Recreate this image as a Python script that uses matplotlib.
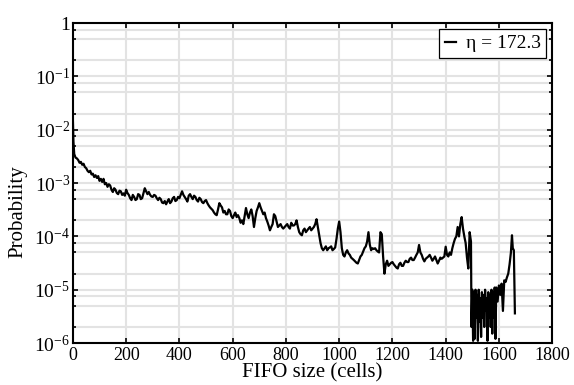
import matplotlib
matplotlib.use('Agg')
from matplotlib import pyplot as plt
from matplotlib.ticker import LogLocator, FixedLocator, NullFormatter

# FIFO occupancy histogram.
# First bins: size 0 and 2 (probability in units of 1e-4)
head_size = [0, 2]
head_prob_e4 = [150, 60]

# Bins 5, 10, ..., 1495 (probability in units of 1e-4)
body_size = list(range(5, 1500, 5))
body_prob_e4 = [
    35, 30, 29, 27, 24, 25, 22, 23, 20, 19,
    17, 16, 17, 14.5, 15, 13, 14, 12.5, 13.5, 11,
    12, 10.5, 12, 9.5, 10, 8.5, 9.5, 9, 7.5, 6.8,
    8, 7.5, 6.5, 6.2, 7.2, 7, 6, 6.4, 5.8, 7.5,
    6.5, 6, 5.2, 4.8, 6, 5.5, 4.8, 5, 6.2, 6,
    5, 5.2, 6.5, 8, 7, 6.2, 6.8, 6, 5.6, 5.5,
    6, 5.8, 5.2, 4.8, 5.3, 5, 4.3, 4.2, 4.6, 4,
    4.5, 5, 4.2, 4.5, 5.2, 5.5, 4.6, 4.8, 5.5, 5.2,
    6, 7, 6, 5.5, 5, 4.5, 5.8, 6.2, 5.5, 5,
    5.8, 5.5, 4.8, 4.5, 5.3, 5, 4.4, 4.2, 4.6, 4.8,
    4.2, 3.8, 3.5, 3.3, 3.1, 2.8, 2.6, 2.5, 3.2, 4.2,
    3.8, 3.5, 2.8, 3, 2.6, 2.6, 3.2, 3, 2.4, 2.2,
    2.5, 2.8, 2.3, 2.5, 2.2, 1.8, 2, 1.7, 2.4, 3.4,
    2.6, 2.2, 2.8, 3.2, 2.4, 1.5, 2.2, 3, 3.5, 4.2,
    3.5, 3, 2.6, 2.8, 2.2, 1.9, 1.6, 1.3, 1.5, 1.7,
    2.6, 2.4, 1.9, 1.5, 1.6, 1.7, 1.5, 1.4, 1.5, 1.6,
    1.7, 1.5, 1.4, 1.8, 1.6, 1.6, 1.7, 2, 1.5, 1.2,
    1.1, 1.05, 1.3, 1.4, 1.2, 1.3, 1.4, 1.5, 1.3, 1.4,
    1.5, 1.7, 2.1, 1.5, 1.1, 0.75, 0.6, 0.55, 0.6, 0.65,
    0.55, 0.6, 0.62, 0.65, 0.55, 0.58, 0.62, 0.9, 1.4, 1.9,
    1.2, 0.6, 0.45, 0.42, 0.5, 0.55, 0.48, 0.45, 0.4, 0.38,
    0.36, 0.34, 0.32, 0.31, 0.36, 0.42, 0.45, 0.52, 0.6, 0.65,
    0.8, 1.2, 0.7, 0.55, 0.6, 0.58, 0.6, 0.55, 0.52, 0.5,
    1.2, 1.1, 0.42, 0.2, 0.3, 0.35, 0.28, 0.3, 0.32, 0.33,
    0.3, 0.28, 0.26, 0.25, 0.3, 0.32, 0.28, 0.28, 0.32, 0.35,
    0.33, 0.33, 0.38, 0.4, 0.36, 0.36, 0.4, 0.45, 0.5, 0.69,
    0.5, 0.45, 0.38, 0.34, 0.38, 0.4, 0.42, 0.45, 0.4, 0.35,
    0.38, 0.42, 0.36, 0.31, 0.35, 0.4, 0.38, 0.4, 0.42, 0.64,
    0.45, 0.42, 0.5, 0.45, 0.6, 0.75, 0.9, 1.0, 1.5, 1.0,
    1.7, 2.3, 1.4, 1.0, 0.75, 0.4, 0.25, 1.2, 0.8,
]

# Tail: sparse, noisy region near the buffer limit (absolute probability)
tail_size = [1497, 1500, 1503, 1506, 1509, 1512, 1515, 1518, 1521, 1524,
             1527, 1530, 1533, 1536, 1539, 1542, 1545, 1548, 1551, 1554,
             1557, 1560, 1563, 1566, 1569, 1572, 1575, 1578, 1581, 1584,
             1587, 1590, 1595, 1600, 1605, 1610, 1615, 1620, 1625, 1630,
             1635, 1640, 1645, 1649, 1652, 1656, 1660]
tail_prob = [2e-6, 1e-5, 1.1e-6, 9e-6, 1.2e-6, 1e-5, 3e-6, 8e-6, 1.1e-6,
             1e-5, 2.5e-6, 7e-6, 1.3e-6, 9e-6, 3e-6, 8e-6, 2e-6, 1e-5, 4e-6,
             7e-6, 1.1e-6, 9e-6, 3e-6, 8e-6, 2e-6, 1e-5, 1.5e-6, 9e-6, 3e-6,
             1.1e-5, 1.2e-6, 1.1e-5, 6e-6, 1.2e-5, 8e-6, 1.3e-5, 4e-6, 1.5e-5,
             1.4e-5, 1.7e-5, 2e-5, 3e-5, 5e-5, 1.05e-4, 6e-5, 5.5e-5, 3.6e-6]

fifo_size = head_size + body_size + tail_size
prob = [v * 1e-4 for v in head_prob_e4 + body_prob_e4] + tail_prob

x_ticks = [0, 200, 400, 600, 800, 1000, 1200, 1400, 1600, 1800]
y_ticks = [1e-6, 1e-5, 1e-4, 1e-3, 1e-2, 1e-1, 1]
y_tick_labels = ['$10^{-6}$', '$10^{-5}$', '$10^{-4}$', '$10^{-3}$',
                 '$10^{-2}$', '$10^{-1}$', '1']

plt.rcParams['font.family'] = ['Liberation Serif', 'DejaVu Serif']
plt.rcParams['mathtext.fontset'] = 'custom'
plt.rcParams['mathtext.rm'] = 'Liberation Serif'
plt.rcParams['mathtext.it'] = 'Liberation Serif:italic'

fig = plt.figure(figsize=(5.74, 3.85), dpi=100)
ax = fig.add_axes([0.127, 0.109, 0.835, 0.831])

ax.plot(fifo_size, prob, color='black', linewidth=1.6, label='η = 172.3')

ax.set_yscale('log')
ax.set_xlim(0, 1800)
ax.set_ylim(1e-6, 1)
ax.set_xticks(x_ticks)
ax.set_xticklabels([str(t) for t in x_ticks])
ax.yaxis.set_major_locator(FixedLocator(y_ticks))
ax.set_yticklabels(y_tick_labels)
ax.yaxis.set_minor_locator(LogLocator(base=10, subs=(2.0, 5.0, 7.5)))
ax.yaxis.set_minor_formatter(NullFormatter())

# Grid
ax.grid(True, which='major', color='#e3e3e3', linewidth=1.5)
ax.grid(True, which='minor', axis='y', color='#e3e3e3', linewidth=1.5)
ax.set_axisbelow(True)

for s in ax.spines.values():
    s.set_linewidth(1.5)
ax.tick_params(axis='both', which='both', direction='in', top=True,
               right=True, width=1.2)
ax.tick_params(axis='both', which='major', length=3.5)
ax.tick_params(axis='y', which='minor', length=2.5)
ax.tick_params(axis='x', pad=3, labelsize=13)
ax.tick_params(axis='y', pad=2, labelsize=14)

ax.set_xlabel('FIFO size (cells)', fontsize=15, labelpad=-1)
ax.set_ylabel('Probability', fontsize=15)
ax.yaxis.set_label_coords(-0.094, 0.41)

leg = ax.legend(loc='upper right', fontsize=14, handlelength=0.55,
                handletextpad=0.5, borderaxespad=0.3, fancybox=False,
                framealpha=1, edgecolor='black', borderpad=0.3)
leg.get_frame().set_linewidth(0.9)

plt.savefig('out.png', dpi=100)
